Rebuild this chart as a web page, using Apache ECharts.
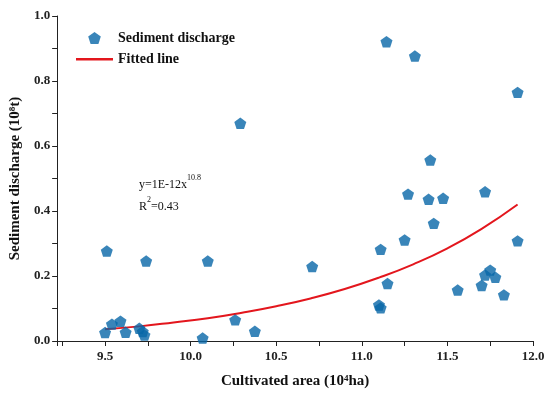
<!DOCTYPE html>
<html><head><meta charset="utf-8">
<script src="https://cdn.jsdelivr.net/npm/echarts@6/dist/echarts.min.js"></script>
<style>html,body{margin:0;padding:0;background:#fff}#c{width:550px;height:397px}</style>
</head><body><div id="c"></div>
<script>
// Cultivated area (10^4 ha) and sediment discharge (10^8 t)
const areaX = [9.51, 9.74, 10.10, 9.50, 9.54, 9.59, 9.62, 9.70, 9.72, 9.73, 10.07, 10.26, 10.375,
  11.144, 11.31, 11.91, 11.40, 11.27, 11.39, 11.475, 11.72, 11.42, 11.25, 11.11, 11.91, 10.71,
  11.15, 11.75, 11.72, 11.78, 11.70, 11.56, 11.83, 11.10, 11.11, 10.29];
const sediment = [0.277, 0.246, 0.246, 0.026, 0.052, 0.061, 0.027, 0.039, 0.029, 0.018, 0.009, 0.065, 0.030,
  0.921, 0.877, 0.765, 0.557, 0.452, 0.436, 0.439, 0.459, 0.362, 0.311, 0.282, 0.308, 0.229,
  0.177, 0.218, 0.203, 0.196, 0.171, 0.157, 0.142, 0.111, 0.102, 0.670];
// Fitted line
const fitX = [9.5, 9.7, 9.9, 10.1, 10.3, 10.5, 10.7, 10.9, 11.1, 11.3, 11.5, 11.7, 11.91];
const fitY = [0.036, 0.045, 0.057, 0.070, 0.087, 0.107, 0.131, 0.160, 0.195, 0.236, 0.285, 0.345, 0.420];
const xTickLabels = ['9.5', '10.0', '10.5', '11.0', '11.5', '12.0'];
const yTickLabels = ['0.0', '0.2', '0.4', '0.6', '0.8', '1.0'];

const FONT = '"Liberation Serif", "DejaVu Serif", serif';
const pentagon = 'path://M0,-10 L9.51,-3.09 L5.88,8.09 L-5.88,8.09 L-9.51,-3.09 Z';
const lineIcon = 'path://M0,0 M0,5 L37,5 L37,7.5 L0,7.5 Z M37,12';
const blue = '#0866a8';
const red = '#e3161d';

const chart = echarts.init(document.getElementById('c'), null, {renderer: 'canvas'});
const fmt = (list) => (v) => {
  const s = v.toFixed(1);
  return list.indexOf(s) >= 0 ? s : '';
};
chart.setOption({
  animation: false,
  backgroundColor: '#fff',
  grid: {left: 52, right: 17, top: 16, bottom: 56, containLabel: false},
  legend: {
    orient: 'vertical', left: 71, top: 26, itemWidth: 37, itemHeight: 12, itemGap: 7,
    textStyle: {fontFamily: FONT, fontWeight: 'bold', fontSize: 14, color: '#111'},
    data: ['Sediment discharge', {name: 'Fitted line', icon: lineIcon}]
  },
  xAxis: {
    type: 'value', min: 9.22, max: 12,
    name: 'Cultivated area (10{sup|4}ha)', nameLocation: 'middle', nameGap: 33,
    nameTextStyle: {fontFamily: FONT, fontWeight: 'bold', fontSize: 15, color: '#111',
      rich: {sup: {fontFamily: FONT, fontWeight: 'bold', fontSize: 9, verticalAlign: 'top', padding: [0,0,6,0], color: '#111'}}},
    axisLine: {show: true, lineStyle: {color: '#222', width: 1}},
    axisTick: {show: true, inside: false, length: 5, lineStyle: {color: '#222'}},
    minorTick: {show: true, splitNumber: 2, length: 5, lineStyle: {color: '#222'}},
    splitLine: {show: false},
    axisLabel: {fontFamily: FONT, fontWeight: 'bold', fontSize: 13, color: '#222', margin: 9,
      formatter: fmt(xTickLabels)}
  },
  yAxis: {
    type: 'value', min: 0, max: 1, interval: 0.2,
    name: 'Sediment discharge (10{sup|8}t)', nameLocation: 'middle', nameGap: 30,
    nameTextStyle: {fontFamily: FONT, fontWeight: 'bold', fontSize: 15, color: '#111',
      rich: {sup: {fontFamily: FONT, fontWeight: 'bold', fontSize: 9, verticalAlign: 'top', padding: [0,0,6,0], color: '#111'}}},
    axisLine: {show: true, lineStyle: {color: '#222', width: 1}},
    axisTick: {show: true, inside: false, length: 5, lineStyle: {color: '#222'}},
    minorTick: {show: true, splitNumber: 2, length: 5, lineStyle: {color: '#222'}},
    splitLine: {show: false},
    axisLabel: {fontFamily: FONT, fontWeight: 'bold', fontSize: 13, color: '#222', margin: 7,
      formatter: fmt(yTickLabels)}
  },
  graphic: [{
    type: 'text', left: 139, top: 174,
    style: {
      text: 'y=1E-12x{sup|10.8}\nR{sup|2}=0.43',
      fontFamily: FONT, fontSize: 12, fill: '#111', lineHeight: 22,
      rich: {sup: {fontFamily: FONT, fontSize: 8, fill: '#111', verticalAlign: 'top', padding: [0,0,7,0]}}
    }
  }],
  series: [{
    name: 'Sediment discharge', type: 'scatter', symbol: pentagon, symbolSize: 12,
    symbolKeepAspect: true,
    itemStyle: {color: blue},
    data: areaX.map((x, i) => [x, sediment[i]]), z: 3
  }, {
    name: 'Fitted line', type: 'line', smooth: true, symbol: 'none', showSymbol: false,
    lineStyle: {color: red, width: 2}, itemStyle: {color: red},
    data: fitX.map((x, i) => [x, fitY[i]]), z: 2
  }]
});
</script></body></html>
